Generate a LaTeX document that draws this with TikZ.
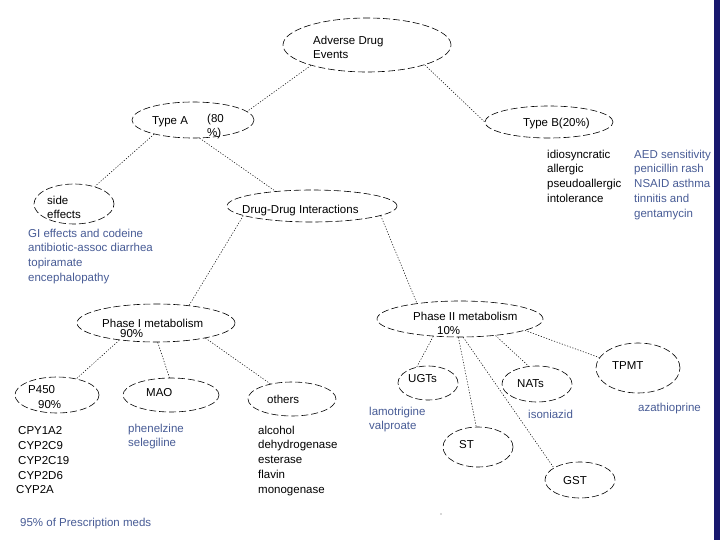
\documentclass[tikz,border=0pt]{standalone}
\usepackage{fontspec}
\setmainfont{Liberation Sans}
\usetikzlibrary{shapes.geometric}
\definecolor{drugblue}{RGB}{72,92,150}
\definecolor{slidebar}{RGB}{24,24,110}
\tikzset{
  bubble/.style={
    draw,
    ellipse,
    dash pattern=on 7pt off 3pt,
    line width=0.6pt,
    inner sep=0pt
  },
  dotline/.style={
    line width=0.5pt,
    dash pattern=on 1.2pt off 1.6pt
  },
  txt/.style={
    inner sep=0pt,
    anchor=base west,
    font=\fontsize{11.5}{14.8}\selectfont
  },
  listtxt/.style={
    inner sep=0pt,
    anchor=north west,
    align=left,
    font=\fontsize{11.5}{14.8}\selectfont
  },
  drug/.style={
    listtxt,
    text=drugblue
  }
}

\begin{document}
\begin{tikzpicture}[x=1pt, y=-1pt]
    \useasboundingbox (0,0) rectangle (720,540);
    \fill[white] (0,0) rectangle (720,540);
    \fill[slidebar] (714,0) rectangle (720,540);

    % ellipses
    \node[bubble, minimum width=168pt, minimum height=54pt] (ade) at (367,45) {};
    \node[bubble, minimum width=122pt, minimum height=36pt] (typeA) at (193,120) {};
    \node[bubble, minimum width=128pt, minimum height=32pt] (typeB) at (549,122) {};
    \node[bubble, minimum width=80pt, minimum height=40pt] (side) at (74,204) {};
    \node[bubble, minimum width=170pt, minimum height=32pt] (ddi) at (312,206) {};
    \node[bubble, minimum width=158pt, minimum height=38pt] (phaseI) at (156,323) {};
    \node[bubble, minimum width=166pt, minimum height=36pt] (phaseII) at (460,319) {};
    \node[bubble, minimum width=84pt, minimum height=36pt] (p450) at (57,395) {};
    \node[bubble, minimum width=96pt, minimum height=34pt] (mao) at (171,395) {};
    \node[bubble, minimum width=88pt, minimum height=34pt] (others) at (292,399) {};
    \node[bubble, minimum width=60pt, minimum height=34pt] (ugts) at (428,383) {};
    \node[bubble, minimum width=70pt, minimum height=36pt] (nats) at (537,384) {};
    \node[bubble, minimum width=84pt, minimum height=50pt] (tpmt) at (638,368) {};
    \node[bubble, minimum width=70pt, minimum height=40pt] (st) at (478,447) {};
    \node[bubble, minimum width=70pt, minimum height=36pt] (gst) at (580,480) {};

    % texts in the ellipses
    \node[listtxt] (adeT) at (313,35.5) {Adverse Drug\\Events};
    \node[txt] (typeAT) at (152,125) {Type A};
    \node[listtxt] (typeAP) at (207,113.5) {(80\\\%)};
    \node[txt] (typeBT) at (523,127) {Type B(20\%)};
    \node[listtxt] (sideT) at (47,195.5) {side\\effects};
    \node[txt] (ddiT) at (242,214) {Drug-Drug Interactions};
    \node[listtxt] (phaseIT) at (102,318.5) {Phase I metabolism\\[-4pt]\hspace*{18pt}90\%};
    \node[listtxt] (phaseIIT) at (413,311.5) {Phase II metabolism\\\hspace*{24pt}10\%};
    \node[listtxt] (p450T) at (28,385.5) {P450\\\hspace*{10pt}90\%};
    \node[txt] (maoT) at (146,396) {MAO};
    \node[txt] (othersT) at (267,403) {others};
    \node[txt] (ugtsT) at (408,382) {UGTs};
    \node[txt] (natsT) at (517,387) {NATs};
    \node[txt] (tpmtT) at (612,369) {TPMT};
    \node[txt] (stT) at (459,448) {ST};
    \node[txt] (gstT) at (563,484) {GST};

    % lists
    \node[listtxt] (typeBL) at (547,149.5) {idiosyncratic\\allergic\\pseudoallergic\\intolerance};
    \node[drug] (typeBD) at (634,149.5) {AED sensitivity\\penicillin rash\\NSAID asthma\\tinnitis and\\gentamycin};
    \node[drug] (sideD) at (28,228.5) {GI effects and codeine\\antibiotic-assoc diarrhea\\topiramate\\encephalopathy};
    \node[listtxt] (p450L) at (18,426.5) {CPY1A2\\CYP2C9\\CYP2C19\\CYP2D6\\\hspace*{-2pt}CYP2A};
    \node[drug] (maoD) at (128,423.5) {phenelzine\\selegiline};
    \node[listtxt] (othersL) at (258,425.5) {alcohol\\dehydrogenase\\esterase\\flavin\\monogenase};
    \node[drug] (ugtsD) at (369,406.5) {lamotrigine\\valproate};
    \node[drug] (natsD) at (528,409.5) {isoniazid};
    \node[drug] (tpmtD) at (638,402.5) {azathioprine};
    \node[drug] (rxD) at (20,517.5) {95\% of Prescription meds};

    \fill[gray!60] (441,514) circle (0.8pt);

    % connectors
    \draw[dotline] (ade.200) -- (typeA.9);
    \draw[dotline] (ade.341) -- (typeB.180);
    \draw[dotline] (typeA.200) -- (side.40);
    \draw[dotline] (typeA.290) -- (ddi.158);
    \draw[dotline] (ddi.188) -- (phaseI.28);
    \draw[dotline] (ddi.352) -- (phaseII.160);
    \draw[dotline] (phaseI.205) -- (p450.40);
    \draw[dotline] (phaseI.275) -- (mao.95);
    \draw[dotline] (phaseI.343) -- (others.145);
    \draw[dotline] (phaseII.213) -- (ugts.125);
    \draw[dotline] (phaseII.265) -- (st.95);
    \draw[dotline] (phaseII.280) -- (gst.155);
    \draw[dotline] (phaseII.335) -- (nats.115);
    \draw[dotline] (phaseII.350) -- (tpmt.165);
\end{tikzpicture}
\end{document}
